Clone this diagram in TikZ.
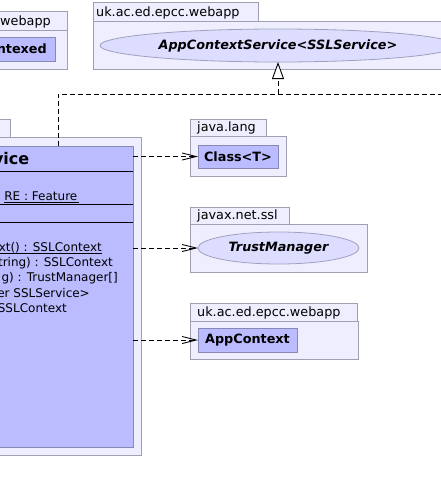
\documentclass[tikz,border=0pt]{standalone}
\usepackage{fontspec}
\setmainfont{DejaVu Sans}
\usetikzlibrary{arrows.meta,shapes.geometric}
\definecolor{pkgfill}{RGB}{238,238,255}
\definecolor{pkgdraw}{RGB}{160,160,180}
\definecolor{clsfill}{RGB}{187,187,255}
\definecolor{clsdraw}{RGB}{136,136,180}
\definecolor{ifill}{RGB}{221,221,255}
\definecolor{idraw}{RGB}{160,160,190}
\begin{document}
\begin{tikzpicture}[x=1pt,y=-1pt,
  pkg/.style={draw=pkgdraw, fill=pkgfill, line width=1pt, inner sep=0pt, outer sep=0pt, anchor=north west},
  cls/.style={draw=clsdraw, fill=clsfill, line width=1pt, inner sep=0pt, outer sep=0pt, anchor=north west},
  iface/.style={ellipse, draw=idraw, fill=ifill, line width=0.8pt, inner sep=0pt, outer sep=0pt},
  pkgname/.style={font=\fontsize{12.8pt}{15pt}\selectfont, anchor=base west, inner sep=0pt},
  clsname/.style={font=\fontsize{12.8pt}{15pt}\selectfont\bfseries, inner sep=0pt},
  ifname/.style={font=\fontsize{12.8pt}{15pt}\selectfont\bfseries\itshape, inner sep=0pt},
  member/.style={font=\fontsize{12pt}{14pt}\selectfont, anchor=base east, inner sep=0pt},
  uline/.style={draw=black, line width=0.8pt},
  sep/.style={draw=black, line width=1pt},
  dep/.style={draw=black, line width=0.9pt, dash pattern=on 5pt off 3pt, -{Straight Barb[length=14pt,width=7pt]}},
  real/.style={draw=black, line width=0.9pt, dash pattern=on 5pt off 3pt},
]
\useasboundingbox (0,0) rectangle (441,493);
\clip (0,0) rectangle (441,493);

% top-left package
\node[pkg, minimum width=87pt, minimum height=19pt] (p1tab) at (-20,11) {};
\node[pkg, minimum width=87pt, minimum height=39pt] (p1) at (-20,30) {};
\node[pkgname] (p1name) at (0,25) {webapp};
\node[cls, minimum width=75pt, minimum height=24pt] (c1) at (-20,37) {};
\node[clsname, anchor=east] (c1name) at (47,49) {ntexed};

% top package with interface
\node[pkg, minimum width=165pt, minimum height=19pt] (p2tab) at (93,2) {};
\node[pkg, minimum width=377pt, minimum height=48pt] (p2) at (93,21) {};
\node[pkgname] (p2name) at (96,16) {uk.ac.ed.epcc.webapp};
\node[iface, minimum width=356pt, minimum height=33pt] (i2) at (278,45.5) {};
\node[ifname] (i2name) at (278,45.5) {AppContextService<SSLService>};

% main package with class
\node[pkg, minimum width=30pt, minimum height=18pt] (p3tab) at (-20,119) {};
\node[pkg, minimum width=161pt, minimum height=318pt] (p3) at (-20,137) {};
\node[cls, minimum width=153pt, minimum height=301pt] (c3) at (-20,146) {};
\node[font=\fontsize{16pt}{18pt}\selectfont\bfseries, anchor=base east, inner sep=0pt] (c3name) at (29.5,164) {vice};
\draw[sep] (c3.west |- 0,171) -- (c3.east |- 0,171);
\draw[sep] (c3.west |- 0,204) -- (c3.east |- 0,204);
\draw[sep] (c3.west |- 0,222) -- (c3.east |- 0,222);
\node[member] (m0) at (77.5,200.7) {RE : Feature};
\draw[uline] ([yshift=-2pt]m0.base west) -- ([yshift=-2pt,xshift=1pt]m0.base east);
\node[member] (m1) at (102,251) {xt() : SSLContext};
\draw[uline] ([yshift=-2pt]m1.base west) -- ([yshift=-2pt]m1.base east);
\node[member] (m2) at (113,266) {tring) : SSLContext};
\node[member] (m3) at (118,281.7) {g) : TrustManager[]};
\node[member] (m4) at (90,297.7) {er SSLService>};
\node[member] (m5) at (67,312) {SSLContext};

% java.lang
\node[pkg, minimum width=76pt, minimum height=17pt] (p4tab) at (190,119) {};
\node[pkg, minimum width=96pt, minimum height=40pt] (p4) at (190,136) {};
\node[pkgname] (p4name) at (197,131.5) {java.lang};
\node[cls, minimum width=80pt, minimum height=23pt] (c4) at (198,145) {};
\node[clsname] (c4name) at (c4.center) {Class<T>};

% javax.net.ssl
\node[pkg, minimum width=99pt, minimum height=17pt] (p5tab) at (190,207) {};
\node[pkg, minimum width=177pt, minimum height=48pt] (p5) at (190,224) {};
\node[pkgname] (p5name) at (197,219.5) {javax.net.ssl};
\node[iface, minimum width=161pt, minimum height=32pt] (i5) at (278.5,248) {};
\node[ifname] (i5name) at (i5.center) {TrustManager};

% bottom webapp package
\node[pkg, minimum width=167pt, minimum height=18pt] (p6tab) at (190,303) {};
\node[pkg, minimum width=168pt, minimum height=38pt] (p6) at (190,321) {};
\node[pkgname] (p6name) at (197,316.5) {uk.ac.ed.epcc.webapp};
\node[cls, minimum width=99pt, minimum height=24pt] (c6) at (198,328) {};
\node[clsname] (c6name) at (c6.center) {AppContext};

% dependencies
\draw[dep] (c3.east |- c4.west) -- (c4.west);
\draw[dep] (c3.east |- i5.west) -- (i5.west);
\draw[dep] (c3.east |- c6.west) -- (c6.west);

% realization
\coordinate (bend) at (58,94);
\coordinate (join) at (i2.south |- bend);
\coordinate (offR) at (450,94);
\draw[real] (c3.north -| bend) -- (bend) -- (join);
\draw[real] (join) -- (offR);
\draw[real, -{Triangle[open, fill=white, length=17pt, width=12pt]}] (join) -- (i2.south);
\end{tikzpicture}
\end{document}
